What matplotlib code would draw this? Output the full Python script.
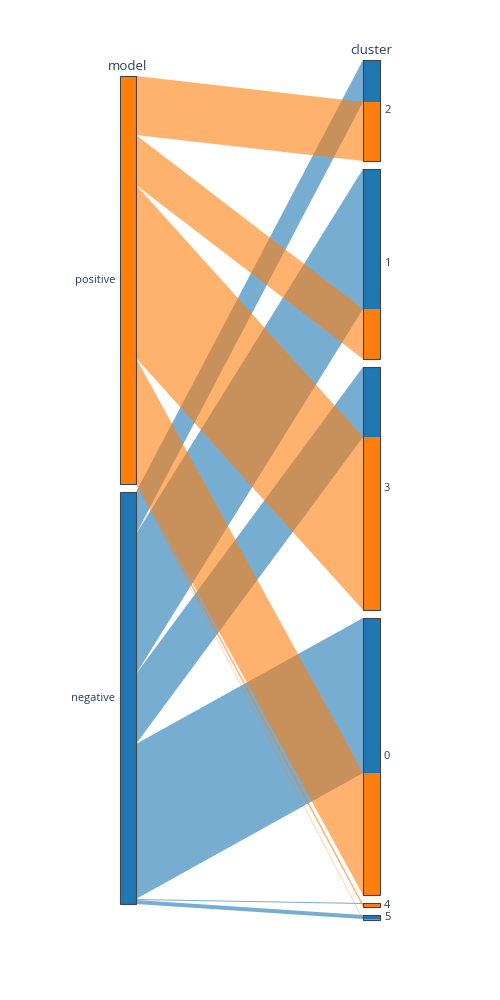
import numpy as np
import matplotlib
matplotlib.use('Agg')
import matplotlib.pyplot as plt
from matplotlib.patches import Rectangle

# data: counts of samples per (model, cluster)
models = ['positive', 'negative']
clusters = ['2', '1', '3', '0', '4', '5']
positive_counts = [59, 50, 173, 122, 3, 1]
negative_counts = [42, 140, 70, 155, 1, 4]
model_colors = {'positive': '#ff7f0e', 'negative': '#1f77b4'}
# order of colours stacked inside a cluster bar (top to bottom)
cluster_stack = ['negative', 'positive']

counts = {'positive': positive_counts, 'negative': negative_counts}

plt.rcParams['font.family'] = ['Open Sans', 'DejaVu Sans']
text_color = '#2a3f5f'

fig = plt.figure(figsize=(5, 10), dpi=100)
ax = fig.add_axes([0, 0, 1, 1])
ax.set_xlim(0, 500)
ax.set_ylim(1000, 0)
ax.axis('off')

center_y = 490
gap = 8
bar_w = 16
left_x = 120
right_x = 363

total = sum(positive_counts) + sum(negative_counts)
scale = 820.0 / total

# left dimension layout
model_tot = [sum(counts[m]) * scale for m in models]
left_span = sum(model_tot) + gap * (len(models) - 1)
y = center_y - left_span / 2
left_top = {}
for m, h in zip(models, model_tot):
    left_top[m] = y
    y += h + gap

# right dimension layout
clus_tot = [(positive_counts[i] + negative_counts[i]) * scale for i in range(len(clusters))]
right_span = sum(clus_tot) + gap * (len(clusters) - 1)
y = center_y - right_span / 2
right_top = {}
for c, h in zip(clusters, clus_tot):
    right_top[c] = y
    y += h + gap

# path positions on left side (ordered by cluster)
left_pos = {}
for m in models:
    y = left_top[m]
    for i, c in enumerate(clusters):
        h = counts[m][i] * scale
        left_pos[(m, c)] = (y, y + h)
        y += h

# path positions on right side (ordered by colour stack)
right_pos = {}
for i, c in enumerate(clusters):
    y = right_top[c]
    for m in cluster_stack:
        h = counts[m][i] * scale
        right_pos[(m, c)] = (y, y + h)
        y += h

# ribbons: blue first, orange on top
for m in ['negative', 'positive']:
    for c in clusters:
        l0, l1 = left_pos[(m, c)]
        r0, r1 = right_pos[(m, c)]
        if l1 - l0 <= 0:
            continue
        xs = [left_x + bar_w, right_x, right_x, left_x + bar_w]
        ys = [l0, r0, r1, l1]
        ax.fill(xs, ys, color=model_colors[m], alpha=0.6, lw=0)

# left bars
for m, h in zip(models, model_tot):
    ax.add_patch(Rectangle((left_x, left_top[m]), bar_w, h, facecolor=model_colors[m],
                           edgecolor='#444444', lw=0.8))
    ax.text(left_x - 5, left_top[m] + h / 2, m, ha='right', va='center',
            fontsize=8, color=text_color)

# right bars with colour segments
for c, h in zip(clusters, clus_tot):
    for m in cluster_stack:
        s0, s1 = right_pos[(m, c)]
        if s1 - s0 > 0:
            ax.add_patch(Rectangle((right_x, s0), bar_w + 1, s1 - s0,
                                   facecolor=model_colors[m], lw=0))
    ax.add_patch(Rectangle((right_x, right_top[c]), bar_w + 1, h, facecolor='none',
                           edgecolor='#444444', lw=0.8))
    ax.text(right_x + bar_w + 5, right_top[c] + h / 2, c, ha='left', va='center',
            fontsize=8, color=text_color)

ax.text(left_x + bar_w / 2, left_top['positive'] - 3, 'model', ha='center', va='bottom',
        fontsize=9.5, color=text_color)
ax.text(right_x + bar_w / 2, right_top['2'] - 3, 'cluster', ha='center', va='bottom',
        fontsize=9.5, color=text_color)

fig.savefig('out.png', dpi=100)
